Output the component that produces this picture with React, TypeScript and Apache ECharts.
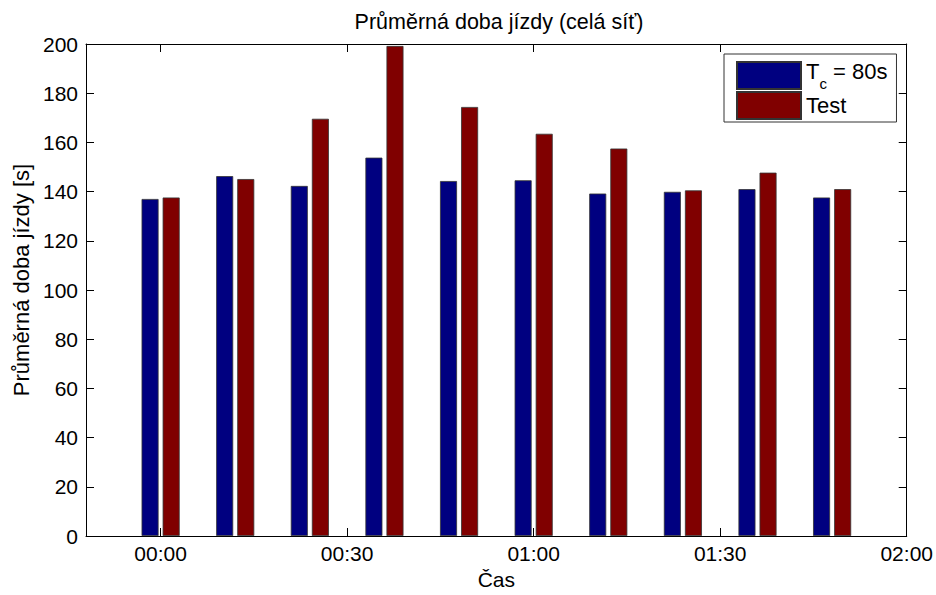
import React, { useEffect, useRef } from "react";
import * as echarts from "echarts";

// Group positions in minutes from 00:00
const times = [0, 12, 24, 36, 48, 60, 72, 84, 96, 108];
const tcValues = [137.0, 146.3, 142.3, 153.8, 144.3, 144.6, 139.2, 139.9, 141.0, 137.6];
const testValues = [137.6, 145.1, 169.6, 199.2, 174.4, 163.5, 157.5, 140.5, 147.7, 141.0];
const xTicks = [0, 30, 60, 90, 120];
const xMin = -12;
const xMax = 120;

const FONT = "'Liberation Sans', Arial, sans-serif";

function fmtTime(v: number): string {
  const h = Math.floor(v / 60);
  const m = Math.round(v - h * 60);
  return String(h).padStart(2, "0") + ":" + String(m).padStart(2, "0");
}

export default function App() {
  const ref = useRef<HTMLDivElement>(null);
  useEffect(() => {
    if (!ref.current) return;
    const chart = echarts.init(ref.current, undefined, { renderer: "svg" });
    const axisLine = { show: true, onZero: false, lineStyle: { color: "#000", width: 1 } };
    const tick = { show: true, inside: true, length: 8, lineStyle: { color: "#000", width: 1 } };
    chart.setOption({
      animation: false,
      backgroundColor: "#fff",
      textStyle: { fontFamily: FONT },
      title: {
        text: "Průměrná doba jízdy (celá síť)",
        left: 494,
        textAlign: "center",
        top: 6,
        textStyle: { fontFamily: FONT, fontSize: 21.5, fontWeight: "normal", color: "#000" },
      },
      grid: { left: 86, right: 29, top: 44, bottom: 58, containLabel: false },
      legend: {
        left: 724,
        top: 54,
        orient: "vertical",
        icon: "rect",
        itemWidth: 64,
        itemHeight: 27,
        itemGap: 0,
        selectedMode: false,
        padding: [6, 9, 2, 12],
        borderColor: "#333",
        borderWidth: 1,
        backgroundColor: "#fff",
        formatter: (name: string) =>
          name === "Tc" ? "{a|T}{b|c}{a| = 80s}" : "{t|Test}",
        textStyle: {
          fontFamily: FONT,
          fontSize: 22,
          color: "#000",
          rich: {
            a: { fontFamily: FONT, fontSize: 22, lineHeight: 22, verticalAlign: "top", color: "#000" },
            b: { fontFamily: FONT, fontSize: 15, lineHeight: 31, padding: [16, 0, 0, 0], verticalAlign: "top", color: "#000" },
            t: { fontFamily: FONT, fontSize: 22, lineHeight: 22, color: "#000" },
          },
        },
      },
      xAxis: [
        {
          type: "value",
          min: xMin,
          max: xMax,
          position: "bottom",
          name: "Čas",
          nameLocation: "middle",
          nameGap: 33,
          nameTextStyle: { fontFamily: FONT, fontSize: 21, color: "#000" },
          axisLine,
          axisTick: { ...tick, customValues: xTicks },
          axisLabel: {
            customValues: xTicks,
            formatter: (v: number) => fmtTime(v),
            fontFamily: FONT,
            fontSize: 21,
            color: "#000",
            margin: 7,
          },
          splitLine: { show: false },
        },
        {
          type: "value",
          min: xMin,
          max: xMax,
          position: "top",
          axisLine,
          axisTick: { ...tick, customValues: xTicks },
          axisLabel: { show: false, customValues: xTicks },
          splitLine: { show: false },
        },
      ],
      yAxis: [
        {
          type: "value",
          min: 0,
          max: 200,
          interval: 20,
          position: "left",
          name: "Průměrná doba jízdy [s]",
          nameLocation: "middle",
          nameGap: 54,
          nameTextStyle: { fontFamily: FONT, fontSize: 22, color: "#000", padding: [0, 0, 0, 20] },
          axisLine,
          axisTick: tick,
          axisLabel: { fontFamily: FONT, fontSize: 21, color: "#000", margin: 8 },
          splitLine: { show: false },
        },
        {
          type: "value",
          min: 0,
          max: 200,
          interval: 20,
          position: "right",
          axisLine,
          axisTick: tick,
          axisLabel: { show: false },
          splitLine: { show: false },
        },
      ],
      series: [
        {
          name: "Tc",
          type: "bar",
          xAxisIndex: 0,
          yAxisIndex: 0,
          barWidth: 17,
          barGap: "24%",
          itemStyle: { color: "#000080", borderColor: "#333", borderWidth: 0.8 },
          data: times.map((t, i) => [t, tcValues[i]]),
        },
        {
          name: "Test",
          type: "bar",
          xAxisIndex: 0,
          yAxisIndex: 0,
          barWidth: 17,
          barGap: "24%",
          itemStyle: { color: "#800000", borderColor: "#333", borderWidth: 0.8 },
          data: times.map((t, i) => [t, testValues[i]]),
        },
      ],
    });
    return () => chart.dispose();
  }, []);
  return (
    <div
      ref={ref}
      style={{ position: "fixed", left: 0, top: 0, width: 936, height: 595, background: "#fff" }}
    />
  );
}
